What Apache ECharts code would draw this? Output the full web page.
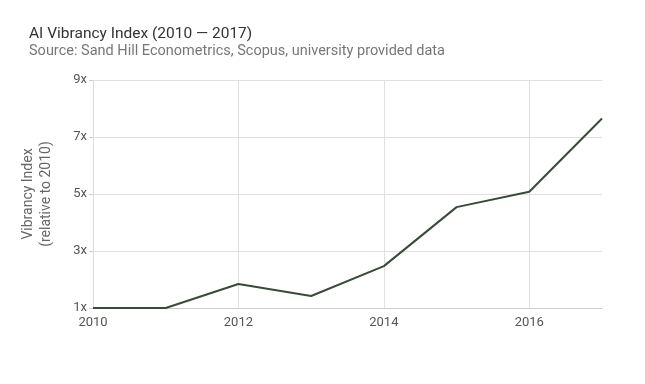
<!DOCTYPE html>
<html>
<head>
<meta charset="utf-8">
<script src="https://cdn.jsdelivr.net/npm/echarts@6/dist/echarts.min.js"></script>
<style>
  html, body { margin: 0; padding: 0; background: #fff; }
  #main { width: 645px; height: 384px; }
</style>
</head>
<body>
<div id="main"></div>
<script>
// 年份
const years = ['2010', '2011', '2012', '2013', '2014', '2015', '2016', '2017'];
// 指数（相对 2010）
const vibrancy = [1.0, 1.0, 1.84, 1.42, 2.47, 4.54, 5.08, 7.65];

const myChart = echarts.init(document.getElementById('main'));

const option = {
  backgroundColor: '#fff',
  textStyle: { fontFamily: 'Roboto' },
  title: {
    text: 'AI Vibrancy Index (2010 \u2014 2017)',
    subtext: 'Source: Sand Hill Econometrics, Scopus, university provided data',
    left: 24,
    top: 21,
    itemGap: 2,
    textStyle: { fontSize: 15.5, fontWeight: 'normal', color: '#333', fontFamily: 'Roboto' },
    subtextStyle: { fontSize: 14.5, color: '#777', fontFamily: 'Roboto' }
  },
  grid: { left: 93, right: 43, top: 80, bottom: 76 },
  xAxis: {
    type: 'category',
    data: years,
    boundaryGap: false,
    axisLine: { show: true, lineStyle: { color: '#ccc' } },
    axisTick: { show: false },
    axisLabel: { interval: 1, color: '#555', fontSize: 13, margin: 8 },
    splitLine: { show: true, interval: 1, lineStyle: { color: '#e0e0e0' } }
  },
  yAxis: {
    type: 'value',
    min: 1,
    max: 9,
    interval: 2,
    name: 'Vibrancy Index\n(relative to 2010)',
    nameLocation: 'middle',
    nameGap: 38,
    nameTextStyle: { color: '#666', fontSize: 14, lineHeight: 18 },
    axisLine: { show: true, lineStyle: { color: '#ddd' } },
    axisTick: { show: true, length: 4, lineStyle: { color: '#ccc' } },
    axisLabel: { formatter: '{value}x', color: '#555', fontSize: 13, margin: 6 },
    splitLine: { show: true, lineStyle: { color: '#e0e0e0' } }
  },
  series: [{
    type: 'line',
    data: vibrancy,
    symbol: 'none',
    lineStyle: { color: '#3a4a3a', width: 2 },
    itemStyle: { color: '#3a4a3a' }
  }]
};

myChart.setOption(option);
</script>
</body>
</html>
